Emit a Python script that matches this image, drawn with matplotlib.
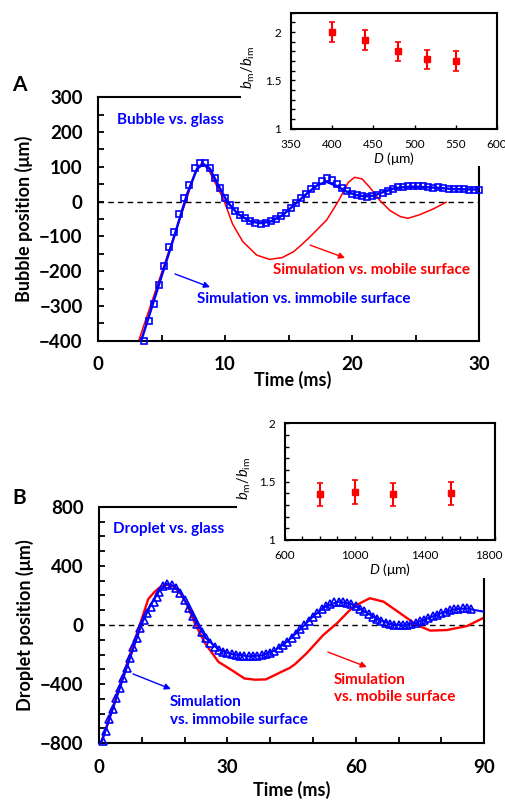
import matplotlib
matplotlib.use('Agg')
import matplotlib.pyplot as plt
from matplotlib.patches import Rectangle
from matplotlib.ticker import MultipleLocator
from matplotlib.transforms import ScaledTranslation

plt.rcParams['font.family'] = ['Lato', 'DejaVu Sans']
plt.rcParams['mathtext.fontset'] = 'custom'
plt.rcParams['mathtext.it'] = 'Lato:italic'
plt.rcParams['mathtext.rm'] = 'Lato'

BLUE = '#0000ff'
RED = '#ff0000'

# ---------------- panel A: bubble ----------------
a_exp_t = [3.6, 4.0, 4.4, 4.8, 5.2, 5.6, 6.0, 6.4, 6.8, 7.2, 7.6, 8.0, 8.4, 8.8,
           9.2, 9.6, 10.0, 10.4, 10.8, 11.2, 11.6, 12.0, 12.4, 12.8, 13.2, 13.6,
           14.0, 14.4, 14.8, 15.2, 15.6, 16.0, 16.4, 16.8, 17.2, 17.6, 18.0, 18.4,
           18.8, 19.2, 19.6, 20.0, 20.4, 20.8, 21.2, 21.6, 22.0, 22.4, 22.8, 23.2,
           23.6, 24.0, 24.4, 24.8, 25.2, 25.6, 26.0, 26.4, 26.8, 27.2, 27.6, 28.0,
           28.4, 28.8, 29.2, 29.6, 30.0]
a_exp_y = [-400, -342, -294, -240, -184, -131, -87, -35, 9, 48, 96, 111, 111, 96,
           69, 39, 10, -10, -26, -38, -48, -57, -62, -64, -62, -57,
           -50, -41, -32, -17, -5, 9, 22, 35, 46, 60, 68, 62,
           50, 38, 30, 22, 19, 16, 14, 15, 20, 26, 31, 36,
           41, 43, 44, 45, 45, 45, 41, 39, 43, 40, 36, 35,
           35, 35, 34, 32, 32]

a_imm_t = [3.4, 5.0, 6.0, 7.0, 7.8, 8.3, 8.8, 9.5, 10.2, 11.0, 12.0, 12.8, 13.6,
           14.5, 15.5, 16.5, 17.3, 18.0, 18.8, 19.5, 20.3, 21.0, 21.7, 22.5, 23.3,
           24.2, 25.0, 26.0, 27.0, 28.0, 29.0, 30.0]
a_imm_y = [-400, -215, -100, 20, 95, 108, 95, 45, -2, -35, -57, -62, -57,
           -40, -8, 25, 48, 57, 45, 30, 19, 15, 17, 28, 38,
           42, 43, 41, 39, 36, 35, 35]

a_mob_t = [3.2, 5.0, 7.0, 7.6, 8.2, 8.8, 9.9, 10.6, 11.4, 12.5, 13.5, 14.5, 15.4,
           16.0, 16.7, 18.0, 18.9, 19.7, 20.2, 20.8, 21.4, 22.2, 23.0, 23.8, 24.4,
           25.3, 26.4, 27.4]
a_mob_y = [-400, -205, 10, 80, 113, 85, 5, -65, -115, -154, -166, -161, -144,
           -125, -101, -53, 0, 55, 70, 65, 41, 3, -26, -43, -48,
           -38, -21, -2]

a_ins_d = [400, 440, 480, 515, 550]
a_ins_r = [2.00, 1.92, 1.80, 1.72, 1.70]
a_ins_err = [0.10, 0.10, 0.10, 0.10, 0.10]

# ---------------- panel B: droplet ----------------
b_exp_t = [0.9, 1.6, 2.4, 3.2, 4.0, 4.8, 5.5, 6.5, 7.3, 8.0, 8.8, 9.6, 10.5,
           11.3, 12.1, 12.9, 13.5,
           14, 15, 16, 17, 18, 19, 20, 21, 22, 23, 24, 25, 26, 27, 28, 29, 30,
           31, 32, 33, 34, 35, 36, 37, 38, 39, 40, 41, 42, 43, 44, 45, 46, 47,
           48, 49, 50, 51, 52, 53, 54, 55, 56, 57, 58, 59, 60, 61, 62, 63, 64,
           65, 66, 67, 68, 69, 70, 71, 72, 73, 74, 75, 76, 77, 78, 79, 80, 81,
           82, 83, 84, 85, 86, 87]
b_exp_y = [-786, -717, -639, -569, -495, -427, -359, -292, -222, -149, -86, -20, 34,
           83, 124, 158, 192,
           225, 262, 278, 272, 250, 215, 170, 118, 60, 5, -45, -90, -125, -150,
           -168, -180, -190, -197, -203, -207, -210, -212, -212, -210, -206, -198,
           -188, -174, -157, -136, -112, -86, -58, -30, -2, 28, 57, 84, 108, 128,
           143, 153, 158, 157, 152, 142, 128, 110, 92, 74, 57, 42, 28, 16, 7, 1,
           -2, -3, 0, 6, 14, 24, 35, 47, 58, 70, 80, 90, 99, 106, 111, 114, 113, 110]

b_imm_t = [0.5, 6, 10, 12, 14, 15.8, 17.5, 19, 21, 23, 25, 28, 31, 35, 38, 41,
           44, 47, 50, 53, 56, 59, 62, 65, 68, 71, 74, 77, 80, 83, 86, 88, 90]
b_imm_y = [-800, -330, 10, 130, 228, 278, 265, 222, 120, 5, -90, -168, -197, -212,
           -206, -174, -112, -30, 57, 128, 158, 142, 92, 42, 7, -3, 14, 47, 80,
           106, 113, 100, 90]

b_mob_t = [0.5, 6, 11.5, 13, 14.5, 15.8, 17.5, 19, 20.5, 22.4, 24.8, 27.9, 31,
           34, 36.5, 39, 42.7, 44.6, 45.8, 48.5, 52.4, 55.6, 59.4, 63.3, 66.5,
           70.4, 74.3, 77.4, 81.3, 86, 90]
b_mob_y = [-800, -310, 175, 225, 262, 272, 258, 215, 140, 11, -124, -249, -305,
           -362, -370, -368, -316, -290, -265, -192, -68, 11, 124, 181, 158,
           79, 0, -38, -34, -7, 50]

b_ins_d = [800, 1000, 1220, 1550]
b_ins_r = [1.39, 1.41, 1.39, 1.40]
b_ins_err = [0.10, 0.10, 0.10, 0.10]


def style_main(ax, xmaj, xmin, ymaj, ymin):
    for s in ax.spines.values():
        s.set_linewidth(1.5)
    ax.xaxis.set_major_locator(MultipleLocator(xmaj))
    ax.xaxis.set_minor_locator(MultipleLocator(xmin))
    ax.yaxis.set_major_locator(MultipleLocator(ymaj))
    ax.yaxis.set_minor_locator(MultipleLocator(ymin))
    ax.tick_params(which='both', direction='in', length=4, width=1.3,
                   top=False, right=False)
    ax.tick_params(which='major', labelsize=13.5, pad=11)
    for lab in ax.get_xticklabels() + ax.get_yticklabels():
        lab.set_fontweight('bold')


def style_inset(ax):
    for s in ax.spines.values():
        s.set_linewidth(1.5)
    ax.tick_params(which='both', direction='in', length=3, width=1.0,
                   top=False, right=False, labelsize=8.5, pad=7)


fig = plt.figure(figsize=(5.06, 8.0), dpi=100)

# ---------- A ----------
axA = fig.add_axes([0.1937, 0.5741, 0.753, 0.3043])
axA.axhline(0, color='black', lw=1.0, ls=(0, (4, 3)), zorder=1)
axA.plot(a_mob_t, a_mob_y, color=RED, lw=1.1, zorder=2)
axA.plot(a_imm_t, a_imm_y, color=BLUE, lw=1.8, zorder=3)
axA.plot(a_exp_t, a_exp_y, ls='none', marker='s', ms=5, mfc='none', mec=BLUE,
         mew=1.2, zorder=4, clip_on=False)
axA.set_xlim(0, 30)
axA.set_ylim(-400, 300)
axA.set_xticks([0, 10, 20, 30])
axA.set_yticks(range(-400, 301, 100))
style_main(axA, 10, 5, 100, 50)
axA.set_xlabel('Time (ms)', fontsize=13, fontweight='bold')
axA.set_ylabel('Bubble position (μm)', fontsize=13, fontweight='bold')
axA.xaxis.set_label_coords(0.512, -0.125)
axA.yaxis.set_label_coords(-0.17, 0.5)
axA.text(1.5, 236, 'Bubble vs. glass', color=BLUE, fontsize=11, fontweight='bold',
         va='center')
axA.text(13.8, -197, 'Simulation vs. mobile surface', color=RED, fontsize=11,
         fontweight='bold', va='center')
axA.text(7.8, -280, 'Simulation vs. immobile surface', color=BLUE, fontsize=11,
         fontweight='bold', va='center')
axA.annotate('', xy=(19.45, -162), xytext=(16.7, -125),
             arrowprops=dict(arrowstyle='-|>', color=RED, lw=1.0,
                             mutation_scale=9, shrinkA=0, shrinkB=0))
axA.annotate('', xy=(8.82, -246), xytext=(6.06, -208),
             arrowprops=dict(arrowstyle='-|>', color=BLUE, lw=1.0,
                             mutation_scale=9, shrinkA=0, shrinkB=0))
fig.text(19 / 506, 1 - 85 / 800, 'A', fontsize=15, fontweight='bold',
         ha='center', va='center')

fig.add_artist(Rectangle((0.476, 0.7925), 0.524, 0.2075, transform=fig.transFigure,
                         facecolor='white', edgecolor='none', zorder=5))
insA = fig.add_axes([0.575, 0.839, 0.407, 0.145], zorder=6)
insA.errorbar(a_ins_d, a_ins_r, yerr=a_ins_err, fmt='s', color=RED, ms=5,
              elinewidth=1.5, capsize=2, capthick=1.2)
insA.set_xlim(350, 600)
insA.set_ylim(1, 2.2)
insA.set_xticks(range(350, 601, 50))
insA.set_yticks([1, 1.5, 2])
insA.set_yticklabels(['1', '1.5', '2'])
insA.yaxis.set_minor_locator(MultipleLocator(0.1))
style_inset(insA)
insA.set_xlabel(r'$D$ (μm)', fontsize=10, labelpad=0)
insA.set_ylabel(r'$b_{\mathrm{m}}/b_{\mathrm{im}}$', fontsize=10.5)
insA.yaxis.set_label_coords(-0.165, 0.53)

# ---------- B ----------
axB = fig.add_axes([0.1957, 0.0709, 0.761, 0.2957])
axB.axhline(0, color='black', lw=1.0, ls=(0, (4, 3)), zorder=1)
axB.plot(b_mob_t, b_mob_y, color=RED, lw=1.7, zorder=2)
axB.plot(b_imm_t, b_imm_y, color=BLUE, lw=1.5, zorder=3)
axB.plot(b_exp_t, b_exp_y, ls='none', marker='^', ms=6, mfc='none', mec=BLUE,
         mew=1.2, zorder=4, clip_on=False)
axB.set_xlim(0, 90)
axB.set_ylim(-800, 800)
axB.set_xticks([0, 30, 60, 90])
axB.set_yticks([-800, -400, 0, 400, 800])
style_main(axB, 30, 10, 400, 100)
axB.set_xlabel('Time (ms)', fontsize=13, fontweight='bold')
axB.set_ylabel('Droplet position (μm)', fontsize=13, fontweight='bold')
axB.xaxis.set_label_coords(0.50, -0.158)
axB.yaxis.set_label_coords(-0.17, 0.5)
axB.text(3.3, 649, 'Droplet vs. glass', color=BLUE, fontsize=11, fontweight='bold',
         va='center')
axB.text(16.6, -581, 'Simulation\nvs. immobile surface', color=BLUE, fontsize=11,
         fontweight='bold', va='center', linespacing=1.3)
axB.text(54.9, -429, 'Simulation\nvs. mobile surface', color=RED, fontsize=11,
         fontweight='bold', va='center', linespacing=1.3)
axB.annotate('', xy=(16.8, -433), xytext=(7.95, -331),
             arrowprops=dict(arrowstyle='-|>', color=BLUE, lw=1.0,
                             mutation_scale=9, shrinkA=0, shrinkB=0))
axB.annotate('', xy=(62.6, -284), xytext=(53.5, -183),
             arrowprops=dict(arrowstyle='-|>', color=RED, lw=1.0,
                             mutation_scale=9, shrinkA=0, shrinkB=0))
fig.text(19 / 506, 1 - 498 / 800, 'B', fontsize=15, fontweight='bold',
         ha='center', va='center')

fig.add_artist(Rectangle((0.468, 0.2775), 0.532, 0.2125, transform=fig.transFigure,
                         facecolor='white', edgecolor='none', zorder=5))
insB = fig.add_axes([0.563, 0.325, 0.415, 0.146], zorder=6)
insB.errorbar(b_ins_d, b_ins_r, yerr=b_ins_err, fmt='s', color=RED, ms=5,
              elinewidth=1.5, capsize=2, capthick=1.2)
insB.set_xlim(600, 1800)
insB.set_ylim(1, 2)
insB.set_xticks([600, 1000, 1400, 1800])
insB.xaxis.set_minor_locator(MultipleLocator(100))
insB.set_yticks([1, 1.5, 2])
insB.set_yticklabels(['1', '1.5', '2'])
insB.yaxis.set_minor_locator(MultipleLocator(0.1))
style_inset(insB)
insB.set_xlabel(r'$D$ (μm)', fontsize=10, labelpad=0)
insB.set_ylabel(r'$b_{\mathrm{m}}/b_{\mathrm{im}}$', fontsize=10.5)
insB.yaxis.set_label_coords(-0.15, 0.53)
# keep the last inset tick label inside the canvas
last = insB.get_xticklabels()[-1]
last.set_transform(last.get_transform() + ScaledTranslation(-4 / 72, 0, fig.dpi_scale_trans))

fig.savefig('out.png', dpi=100)
